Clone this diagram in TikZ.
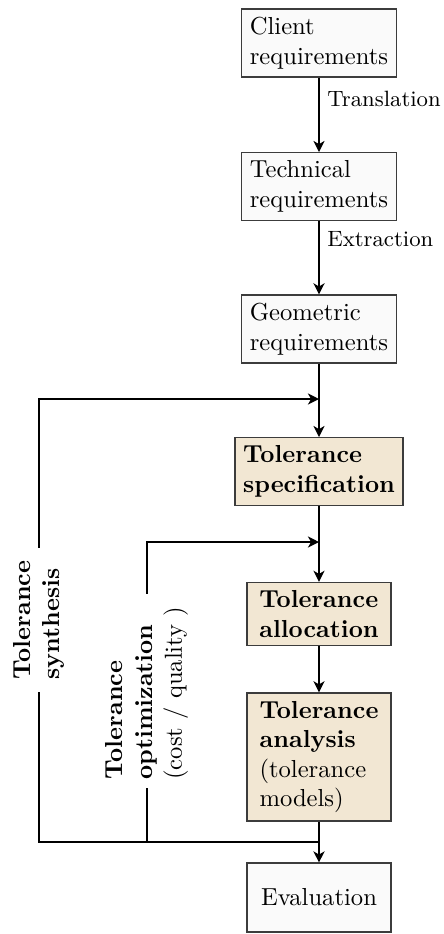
\documentclass[tikz,border=0pt]{standalone}
\usetikzlibrary{arrows.meta}
\definecolor{boxfill}{RGB}{250,250,250}
\definecolor{tolfill}{RGB}{242,231,211}
\definecolor{boxline}{RGB}{60,60,60}
\begin{document}
\begin{tikzpicture}[x=0.4065pt,y=-0.4065pt,
  stepbox/.style={draw=boxline,line width=0.5pt,fill=boxfill,align=left,inner sep=3.33pt},
  tolbox/.style={stepbox,fill=tolfill,font=\bfseries},
  arr/.style={line width=0.8pt,-{Stealth[length=4.5pt,width=4.5pt,inset=1.3pt]}},
  ln/.style={line width=0.8pt},
  lbl/.style={font=\small,anchor=west,inner sep=3pt},
  sidelbl/.style={rotate=90,align=left,inner xsep=5pt,inner ysep=0pt}]
\useasboundingbox (0,0) rectangle (444,934);
\node[stepbox] (client) at (319,43) {Client\\requirements};
\node[stepbox] (tech) at (319,186.5) {Technical\\requirements};
\node[stepbox] (geom) at (319,329) {Geometric\\requirements};
\node[tolbox] (spec) at (319,471.5) {Tolerance\\specification};
\node[tolbox,minimum width=58.5pt] (alloc) at (319,614) {Tolerance\\allocation};
\node[tolbox,minimum width=58.5pt] (anal) at (319,757) {Tolerance\\analysis\\\mdseries(tolerance\\\mdseries models)};
\node[stepbox,minimum width=58.5pt,minimum height=28pt,align=center] (eval) at (319,897.5) {Evaluation};
\node[sidelbl,font=\bfseries] (synth) at (39,620) {Tolerance\\synthesis};
\node[sidelbl,text width=72pt,inner xsep=3.4pt] (opt) at (147,691) {\textbf{Tolerance}\\\textbf{optimization}\\(cost / quality )};
\coordinate (j1) at (319,399);
\coordinate (j2) at (319,542);
\coordinate (j3) at (319,842);
\draw[arr] (client) -- node[lbl,pos=0.29]{Translation} (tech);
\draw[arr] (tech) -- node[lbl,pos=0.25]{Extraction} (geom);
\draw[arr] (geom) -- (spec);
\draw[arr] (spec) -- (alloc);
\draw[arr] (alloc) -- (anal);
\draw[arr] (anal) -- (eval);
\draw[arr] (synth.east) |- (j1);
\draw[arr] (opt.east) |- (j2);
\draw[ln] (synth.west) |- (j3);
\draw[ln] (opt.west) -- (opt.west |- j3);
\end{tikzpicture}
\end{document}
